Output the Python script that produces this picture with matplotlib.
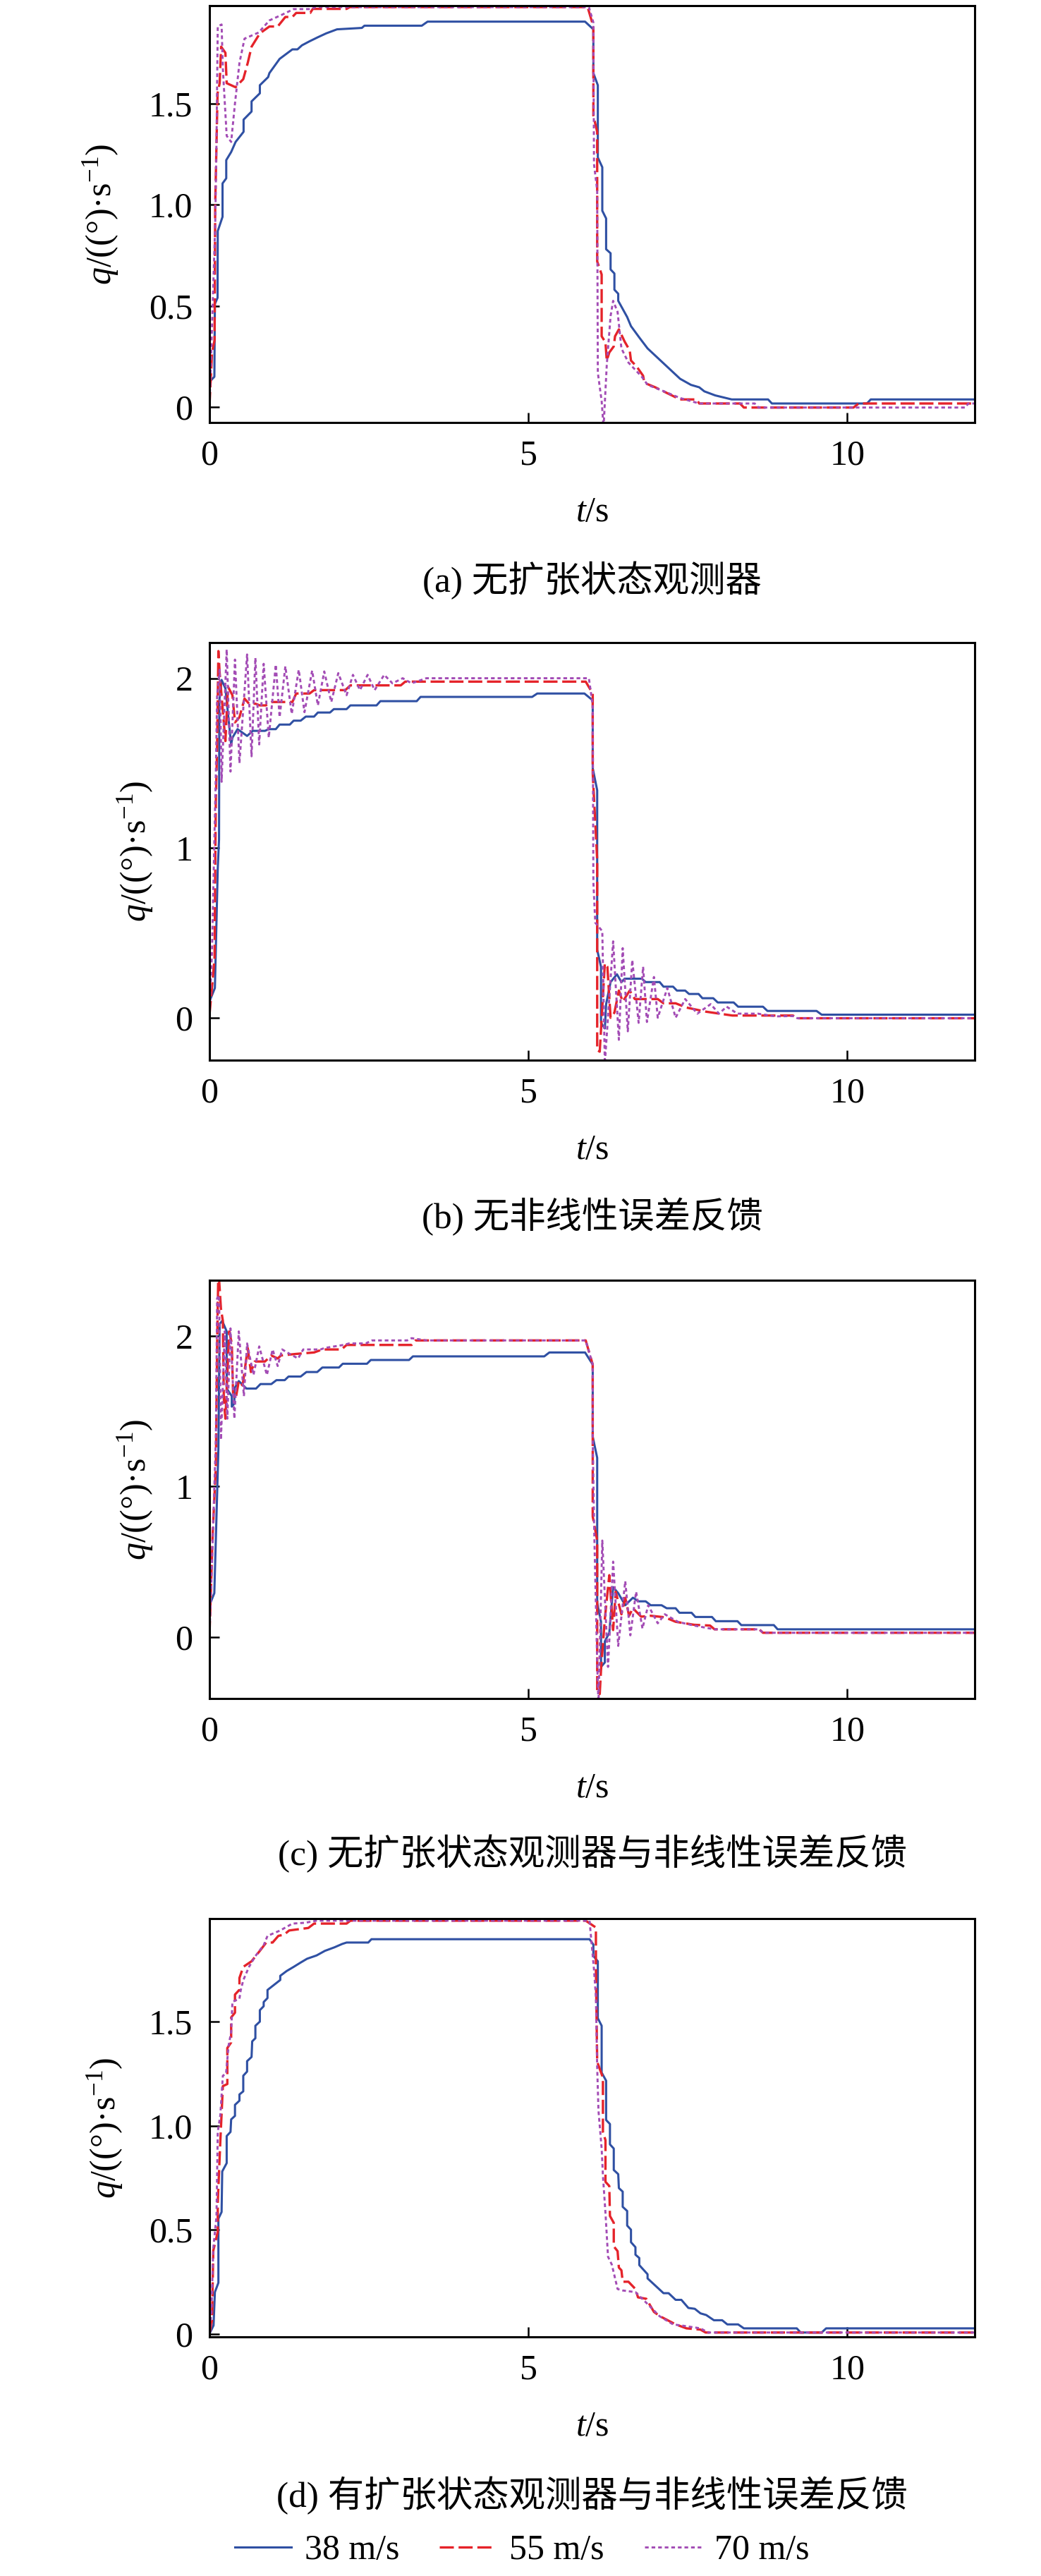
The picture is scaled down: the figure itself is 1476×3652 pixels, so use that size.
import numpy as np
import matplotlib
matplotlib.use("Agg")
import matplotlib.pyplot as plt

plt.rcParams['font.family'] = ['Liberation Serif', 'Noto Sans CJK SC']
plt.rcParams['mathtext.fontset'] = 'custom'
plt.rcParams['mathtext.rm'] = 'Liberation Serif'
plt.rcParams['mathtext.it'] = 'Liberation Serif:italic'

# ---- data: (t [s], q [deg/s]) ----
# (a) without ESO
a38 = [(0, 0.125), (0.077, 0.15), (0.085, 0.51), (0.127, 0.54), (0.13, 0.87), (0.205, 0.94), (0.205, 1.105),
       (0.263, 1.13), (0.263, 1.22), (0.34, 1.26), (0.41, 1.31), (0.535, 1.36), (0.535, 1.42), (0.66, 1.46),
       (0.66, 1.51), (0.79, 1.55), (0.79, 1.59), (0.92, 1.63), (0.94, 1.65), (1.1, 1.72), (1.30, 1.767),
       (1.38, 1.767), (1.45, 1.787), (1.57, 1.807), (1.70, 1.827), (1.83, 1.846), (2.00, 1.866), (2.39, 1.873),
       (2.43, 1.884), (3.33, 1.884), (3.42, 1.904), (5.89, 1.904), (6.02, 1.866), (6.02, 1.65), (6.09, 1.59),
       (6.09, 1.233), (6.16, 1.185), (6.16, 0.97), (6.22, 0.932), (6.22, 0.78), (6.29, 0.76), (6.29, 0.68),
       (6.35, 0.66), (6.35, 0.58), (6.41, 0.56), (6.41, 0.525), (6.48, 0.485), (6.55, 0.445), (6.61, 0.40),
       (6.74, 0.344), (6.87, 0.29), (7.38, 0.14), (7.55, 0.11), (7.68, 0.098), (7.76, 0.078), (7.93, 0.058),
       (8.19, 0.038), (8.76, 0.038), (8.82, 0.018), (10.31, 0.018), (10.37, 0.038), (12.0, 0.038)]
a55 = [(0, 0.005), (0.04, 0.27), (0.08, 0.33), (0.09, 1.0), (0.127, 1.55), (0.16, 1.6), (0.183, 1.78),
       (0.25, 1.75), (0.27, 1.6), (0.41, 1.58), (0.45, 1.594), (0.53, 1.62), (0.6, 1.7), (0.66, 1.78),
       (0.79, 1.846), (0.94, 1.88), (1.07, 1.88), (1.19, 1.927), (1.30, 1.927), (1.36, 1.947), (1.58, 1.947),
       (1.62, 1.967), (2.15, 1.967), (2.2, 1.976), (5.93, 1.976), (6.02, 1.88), (6.02, 1.44), (6.08, 1.36),
       (6.08, 0.72), (6.15, 0.655), (6.15, 0.35), (6.21, 0.32), (6.23, 0.23), (6.27, 0.27), (6.34, 0.30),
       (6.36, 0.35), (6.42, 0.384), (6.51, 0.324), (6.59, 0.28), (6.61, 0.23), (6.7, 0.2), (6.8, 0.155),
       (6.82, 0.12), (6.99, 0.098), (7.25, 0.058), (7.38, 0.038), (7.64, 0.038), (7.68, 0.018), (8.32, 0.018),
       (8.38, -0.002), (10.1, -0.002), (10.18, 0.018), (12.0, 0.018)]
a70 = [(0, 0.005), (0.04, 0.4), (0.09, 0.9), (0.11, 1.31), (0.13, 1.88), (0.19, 1.89), (0.21, 1.67),
       (0.27, 1.34), (0.34, 1.31), (0.40, 1.50), (0.47, 1.70), (0.55, 1.82), (0.77, 1.85), (0.94, 1.91),
       (1.15, 1.94), (1.32, 1.966), (1.6, 1.966), (1.66, 1.976), (5.95, 1.976), (6.02, 1.9), (6.03, 1.2),
       (6.08, 1.07), (6.09, 0.17), (6.15, 0.03), (6.18, -0.1), (6.23, 0.207), (6.29, 0.45), (6.33, 0.525),
       (6.40, 0.47), (6.46, 0.29), (6.57, 0.22), (6.78, 0.15), (6.87, 0.11), (7.08, 0.084), (7.38, 0.045),
       (7.68, 0.018), (8.55, 0.018), (8.61, -0.002), (11.85, -0.002), (11.9, 0.018), (12.0, 0.018)]

# (b) without nonlinear error feedback
b38 = [(0, 0.096), (0.085, 0.175), (0.13, 0.88), (0.15, 1.05), (0.155, 1.87), (0.19, 1.99), (0.25, 1.94),
       (0.34, 1.61), (0.36, 1.65), (0.44, 1.70), (0.59, 1.66), (0.68, 1.69), (0.87, 1.69), (0.93, 1.70),
       (1.04, 1.70), (1.10, 1.727), (1.26, 1.727), (1.32, 1.75), (1.43, 1.75), (1.51, 1.774), (1.64, 1.774),
       (1.70, 1.798), (1.89, 1.798), (1.95, 1.818), (2.15, 1.818), (2.21, 1.84), (2.62, 1.84), (2.68, 1.865),
       (3.25, 1.865), (3.31, 1.89), (5.06, 1.89), (5.14, 1.91), (5.88, 1.91), (6.01, 1.87), (6.01, 1.47),
       (6.08, 1.34), (6.08, 0.40), (6.14, 0.30), (6.14, -0.03), (6.2, -0.063), (6.22, 0.08), (6.29, 0.21),
       (6.39, 0.256), (6.46, 0.21), (6.51, 0.23), (6.78, 0.23), (6.84, 0.21), (7.06, 0.21), (7.12, 0.183),
       (7.27, 0.183), (7.33, 0.16), (7.46, 0.16), (7.52, 0.14), (7.67, 0.14), (7.73, 0.115), (7.90, 0.115),
       (7.97, 0.09), (8.22, 0.09), (8.29, 0.065), (8.68, 0.065), (8.75, 0.04), (9.52, 0.04), (9.60, 0.018),
       (12.0, 0.018)]
b55 = [(0, 0.016), (0.08, 0.35), (0.09, 0.88), (0.1, 1.28), (0.12, 1.6), (0.14, 2.16), (0.16, 2.03),
       (0.2, 1.85), (0.25, 1.63), (0.29, 1.95), (0.36, 1.9), (0.40, 1.74), (0.47, 1.77), (0.55, 1.88),
       (0.62, 1.85), (0.72, 1.85), (0.79, 1.84), (0.88, 1.84), (0.98, 1.86), (1.30, 1.86), (1.36, 1.91),
       (1.57, 1.91), (1.64, 1.93), (2.13, 1.93), (2.21, 1.958), (3.0, 1.958), (3.07, 1.98), (5.9, 1.98),
       (6.01, 1.91), (6.01, 1.44), (6.08, 0.93), (6.08, -0.19), (6.12, -0.2), (6.2, 0.32), (6.24, 0.3),
       (6.29, 0.0), (6.35, 0.03), (6.42, 0.16), (6.48, 0.095), (6.59, 0.16), (6.67, 0.11), (7.03, 0.11),
       (7.12, 0.085), (7.31, 0.085), (7.48, 0.06), (7.78, 0.036), (8.2, 0.013), (9.15, 0.013), (9.22, -0.003),
       (12.0, -0.003)]
b70 = [(0, 0.016), (0.04, 0.40), (0.1, 1.44), (0.12, 1.9), (0.16, 2.05), (0.19, 1.39), (0.27, 2.17),
       (0.33, 1.45), (0.40, 2.11), (0.47, 1.5), (0.59, 2.14), (0.66, 1.54), (0.72, 2.12), (0.78, 1.61),
       (0.85, 2.085), (0.93, 1.65), (1.04, 2.08), (1.10, 1.77), (1.19, 2.07), (1.29, 1.79), (1.40, 2.05),
       (1.49, 1.80), (1.61, 2.045), (1.70, 1.84), (1.80, 2.04), (1.91, 1.86), (2.02, 2.03), (2.15, 1.9),
       (2.25, 2.02), (2.36, 1.93), (2.48, 2.02), (2.59, 1.93), (2.74, 2.02), (2.87, 1.97), (3.03, 2.0),
       (3.17, 1.97), (3.4, 2.0), (5.95, 2.0), (6.01, 1.84), (6.02, 0.80), (6.05, 0.56), (6.16, 0.51),
       (6.2, -0.27), (6.33, 0.45), (6.42, -0.13), (6.48, 0.41), (6.56, -0.08), (6.63, 0.34), (6.73, -0.03),
       (6.8, 0.3), (6.86, -0.025), (6.97, 0.24), (7.03, 0.0), (7.18, 0.175), (7.31, 0.0), (7.46, 0.11),
       (7.65, 0.024), (7.86, 0.08), (7.99, 0.024), (8.11, 0.065), (8.28, 0.024), (8.6, 0.024), (8.88, 0.008),
       (9.15, 0.01), (9.22, -0.003), (12.0, -0.003)]

# (c) without ESO and nonlinear error feedback
c38 = [(0, 0.21), (0.076, 0.29), (0.14, 1.25), (0.16, 2.08), (0.2, 2.1), (0.27, 2.03), (0.27, 1.65),
       (0.35, 1.60), (0.35, 1.53), (0.39, 1.55), (0.39, 1.65), (0.46, 1.70), (0.58, 1.65), (0.73, 1.65),
       (0.80, 1.68), (0.97, 1.68), (1.05, 1.706), (1.18, 1.706), (1.24, 1.73), (1.43, 1.73), (1.52, 1.76),
       (1.69, 1.76), (1.77, 1.79), (2.03, 1.79), (2.09, 1.815), (2.47, 1.815), (2.53, 1.84), (3.13, 1.84),
       (3.19, 1.864), (5.25, 1.864), (5.33, 1.89), (5.89, 1.89), (6.01, 1.81), (6.01, 1.33), (6.08, 1.19),
       (6.08, 0.226), (6.14, 0.10), (6.14, -0.2), (6.2, -0.17), (6.2, -0.03), (6.27, 0.027), (6.33, 0.33),
       (6.41, 0.29), (6.52, 0.21), (6.64, 0.26), (6.73, 0.236), (6.84, 0.236), (6.92, 0.21), (7.09, 0.21),
       (7.17, 0.19), (7.31, 0.19), (7.37, 0.16), (7.56, 0.16), (7.62, 0.132), (7.88, 0.132), (7.94, 0.104),
       (8.28, 0.104), (8.34, 0.078), (8.85, 0.078), (8.91, 0.05), (12.0, 0.05)]
c55 = [(0, 0.01), (0.05, 0.68), (0.1, 1.13), (0.12, 1.94), (0.14, 2.45), (0.18, 2.18), (0.21, 2.1),
       (0.225, 1.58), (0.25, 1.45), (0.31, 2.03), (0.35, 1.95), (0.37, 1.62), (0.41, 1.58), (0.46, 1.70),
       (0.52, 1.67), (0.6, 1.92), (0.65, 1.76), (0.71, 1.83), (0.87, 1.83), (0.97, 1.87), (1.07, 1.85),
       (1.12, 1.87), (1.35, 1.88), (1.64, 1.89), (1.77, 1.91), (2.07, 1.91), (2.15, 1.94), (3.17, 1.94),
       (3.23, 1.97), (5.9, 1.97), (6.01, 1.81), (6.01, 0.80), (6.08, 0.64), (6.08, -0.37), (6.12, -0.38),
       (6.14, -0.22), (6.2, 0.12), (6.27, 0.41), (6.33, 0.045), (6.37, 0.30), (6.46, 0.15), (6.52, 0.26),
       (6.58, 0.14), (6.64, 0.19), (6.77, 0.134), (6.92, 0.14), (7.14, 0.13), (7.31, 0.10), (7.6, 0.08),
       (7.85, 0.075), (7.92, 0.05), (8.62, 0.05), (8.68, 0.027), (12.0, 0.027)]
c70 = [(0, 0.01), (0.04, 0.5), (0.1, 1.31), (0.12, 2.25), (0.15, 2.27), (0.18, 1.31), (0.24, 2.03),
       (0.28, 1.45), (0.33, 2.05), (0.39, 1.45), (0.46, 2.03), (0.54, 1.6), (0.59, 1.95), (0.69, 1.74),
       (0.78, 1.93), (0.9, 1.74), (0.99, 1.91), (1.07, 1.8), (1.14, 1.91), (1.26, 1.88), (1.39, 1.85),
       (1.47, 1.91), (1.74, 1.91), (1.81, 1.92), (2.1, 1.94), (2.19, 1.95), (2.45, 1.95), (2.55, 1.97),
       (3.1, 1.97), (3.17, 1.985), (3.4, 1.97), (5.9, 1.97), (6.01, 1.81), (6.01, 1.31), (6.03, 0.77),
       (6.08, -0.17), (6.1, -0.45), (6.16, 0.64), (6.25, -0.2), (6.33, 0.5), (6.41, -0.06), (6.52, 0.37),
       (6.6, 0.01), (6.69, 0.3), (6.79, 0.055), (6.88, 0.21), (7.03, 0.09), (7.14, 0.15), (7.35, 0.099),
       (7.6, 0.075), (7.92, 0.05), (8.62, 0.05), (8.68, 0.027), (12.0, 0.027)]

# (d) with ESO and nonlinear error feedback
d38 = [(0, 0.0), (0.064, 0.04), (0.085, 0.20), (0.14, 0.245), (0.14, 0.553), (0.19, 0.585), (0.2, 0.78),
       (0.27, 0.82), (0.27, 0.95), (0.33, 0.97), (0.34, 1.03), (0.40, 1.047), (0.40, 1.1), (0.47, 1.12),
       (0.47, 1.15), (0.53, 1.165), (0.53, 1.24), (0.59, 1.26), (0.59, 1.31), (0.66, 1.33), (0.67, 1.405),
       (0.72, 1.42), (0.72, 1.48), (0.79, 1.50), (0.79, 1.555), (0.85, 1.574), (0.85, 1.594), (0.91, 1.613),
       (0.91, 1.652), (1.11, 1.70), (1.11, 1.72), (1.21, 1.743), (1.32, 1.763), (1.42, 1.782), (1.53, 1.802),
       (1.68, 1.818), (1.81, 1.84), (1.96, 1.857), (2.08, 1.873), (2.15, 1.88), (2.49, 1.88), (2.54, 1.896),
       (5.96, 1.896), (6.02, 1.87), (6.02, 1.815), (6.09, 1.79), (6.09, 1.516), (6.15, 1.48), (6.15, 1.255),
       (6.22, 1.216), (6.22, 1.027), (6.28, 1.008), (6.28, 0.91), (6.34, 0.89), (6.34, 0.787), (6.41, 0.767),
       (6.42, 0.70), (6.48, 0.683), (6.48, 0.61), (6.55, 0.59), (6.55, 0.52), (6.61, 0.5), (6.61, 0.44),
       (6.68, 0.416), (6.68, 0.38), (6.74, 0.364), (6.74, 0.33), (6.87, 0.286), (6.87, 0.266), (7.12, 0.195),
       (7.2, 0.195), (7.31, 0.163), (7.4, 0.163), (7.51, 0.124), (7.61, 0.12), (7.7, 0.098), (7.79, 0.09),
       (7.91, 0.065), (8.04, 0.065), (8.12, 0.045), (8.29, 0.045), (8.38, 0.026), (9.21, 0.026), (9.27, 0.006),
       (9.6, 0.006), (9.67, 0.026), (12.0, 0.026)]
d55 = [(0, 0.0), (0.04, 0.065), (0.06, 0.40), (0.13, 0.49), (0.13, 0.63), (0.17, 0.923), (0.21, 1.19),
       (0.28, 1.2), (0.28, 1.373), (0.34, 1.40), (0.34, 1.52), (0.40, 1.543), (0.40, 1.63), (0.47, 1.653),
       (0.47, 1.71), (0.53, 1.763), (0.66, 1.79), (0.79, 1.84), (0.89, 1.88), (0.99, 1.88), (1.08, 1.912),
       (1.17, 1.918), (1.25, 1.938), (1.55, 1.95), (1.64, 1.971), (2.15, 1.971), (2.21, 1.985), (5.9, 1.985),
       (6.06, 1.952), (6.06, 1.75), (6.08, 1.307), (6.17, 1.23), (6.17, 0.97), (6.21, 0.93), (6.21, 0.73),
       (6.27, 0.71), (6.28, 0.566), (6.34, 0.533), (6.34, 0.42), (6.40, 0.397), (6.42, 0.318), (6.46, 0.305),
       (6.48, 0.25), (6.57, 0.25), (6.68, 0.215), (6.72, 0.175), (6.85, 0.168), (6.97, 0.105), (7.06, 0.085),
       (7.31, 0.045), (7.48, 0.026), (7.7, 0.02), (7.78, 0.006), (12.0, 0.006)]
d70 = [(0, 0.0), (0.03, 0.1), (0.06, 0.41), (0.11, 0.565), (0.13, 0.97), (0.17, 1.05), (0.21, 1.24),
       (0.26, 1.25), (0.3, 1.385), (0.34, 1.45), (0.36, 1.595), (0.47, 1.61), (0.49, 1.65), (0.53, 1.699),
       (0.62, 1.763), (0.72, 1.815), (0.85, 1.867), (0.91, 1.912), (1.11, 1.938), (1.3, 1.971), (1.5, 1.975),
       (1.68, 1.985), (5.96, 1.985), (6.03, 1.75), (6.06, 1.62), (6.08, 1.28), (6.1, 1.073), (6.15, 0.89),
       (6.17, 0.76), (6.21, 0.58), (6.25, 0.37), (6.31, 0.332), (6.4, 0.215), (6.48, 0.208), (6.68, 0.2),
       (6.85, 0.149), (7.06, 0.084), (7.27, 0.045), (7.44, 0.038), (7.7, 0.026), (7.82, 0.006), (12.0, 0.006)]

labels = ["38 m/s", "55 m/s", "70 m/s"]
captions = ["(a) 无扩张状态观测器", "(b) 无非线性误差反馈",
            "(c) 无扩张状态观测器与非线性误差反馈", "(d) 有扩张状态观测器与非线性误差反馈"]
yticks_a = [0, 0.5, 1.0, 1.5]
yticklabels_a = ["0", "0.5", "1.0", "1.5"]
yticks_b = [0, 1, 2]
yticklabels_b = ["0", "1", "2"]
xticks = [0, 5, 10]

colors = ["#2f50a3", "#e5232a", "#a34cb5"]
styles = [dict(ls="-", lw=2.2),
          dict(ls=(0, (6, 2)), lw=2.4),
          dict(ls=(0, (1.8, 1.4)), lw=2.1)]

W, H = 1476, 3652
fig = plt.figure(figsize=(W / 100, H / 100), dpi=100)

panels = [
    dict(data=[a38, a55, a70], top=8, bot=599, ylim=(-0.076, 1.983), yt=(yticks_a, yticklabels_a), ylx=-0.142, cap=823),
    dict(data=[b38, b55, b70], top=911, bot=1503, ylim=(-0.25, 2.21), yt=(yticks_b, yticklabels_b), ylx=-0.097, cap=1725),
    dict(data=[c38, c55, c70], top=1815, bot=2408, ylim=(-0.41, 2.37), yt=(yticks_b, yticklabels_b), ylx=-0.097, cap=2628),
    dict(data=[d38, d55, d70], top=2720, bot=3313, ylim=(-0.015, 1.995), yt=(yticks_a, yticklabels_a), ylx=-0.136, cap=3538),
]

left_px, right_px = 297, 1382
handles = None
for i, p in enumerate(panels):
    ax = fig.add_axes([left_px / W, 1 - p["bot"] / H, (right_px - left_px) / W, (p["bot"] - p["top"]) / H])
    lines = []
    for series, c, st in zip(p["data"], colors, styles):
        t = np.array([s[0] for s in series])
        q = np.array([s[1] for s in series])
        ln, = ax.plot(t, q, color=c, **st)
        lines.append(ln)
    handles = lines
    ax.set_xlim(0, 12)
    ax.set_ylim(*p["ylim"])
    ax.set_xticks(xticks)
    ax.set_xticklabels([str(x) for x in xticks])
    ax.set_yticks(p["yt"][0])
    ax.set_yticklabels(p["yt"][1])
    ax.tick_params(direction="in", length=10, width=1.8, labelsize=36, pad=17,
                   top=False, right=False)
    for s in ax.spines.values():
        s.set_linewidth(2.2)
    ax.set_xlabel(r"$t$/s", fontsize=36, va="center")
    ax.xaxis.set_label_coords(0.5, -128 / (p["bot"] - p["top"]))
    ax.set_ylabel(r"$q$/((°)·s$^{-1}$)", fontsize=36, va="center")
    ax.yaxis.set_label_coords(p["ylx"], 0.5)
    fig.text((left_px + right_px) / 2 / W, 1 - p["cap"] / H, captions[i],
             ha="center", va="center", fontsize=37)

fig.legend(handles, labels, loc="center", bbox_to_anchor=(0.5014, 1 - 3616 / H), ncol=3,
           frameon=False, fontsize=36, handlelength=1.6, handletextpad=0.38, columnspacing=1.14)

fig.savefig("out.png", dpi=100)
